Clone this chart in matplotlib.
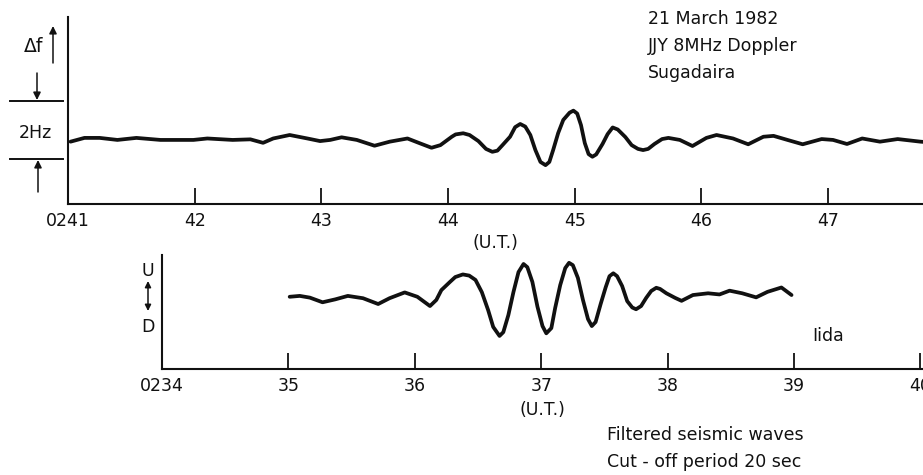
import numpy as np
import matplotlib
matplotlib.use("Agg")
import matplotlib.pyplot as plt
from matplotlib.transforms import blended_transform_factory

# HF Doppler shift, JJY 8 MHz received at Sugadaira (minutes past 02 UT, Hz)
doppler_t = [41.02, 41.13, 41.25, 41.39, 41.54, 41.73, 41.99, 42.10, 42.30, 42.44,
             42.54, 42.62, 42.75, 42.89, 42.99, 43.07, 43.16, 43.28, 43.42, 43.54,
             43.68, 43.78, 43.87, 43.94, 44.03, 44.06, 44.12, 44.17, 44.24, 44.30,
             44.35, 44.39, 44.43, 44.49, 44.53, 44.57, 44.61, 44.65, 44.69, 44.73,
             44.77, 44.80, 44.83, 44.87, 44.91, 44.96, 44.99, 45.02, 45.05, 45.08,
             45.11, 45.14, 45.17, 45.22, 45.26, 45.30, 45.34, 45.40, 45.45, 45.50,
             45.54, 45.58, 45.63, 45.69, 45.74, 45.83, 45.93, 46.04, 46.12, 46.25,
             46.37, 46.49, 46.57, 46.68, 46.80, 46.95, 47.04, 47.15, 47.27, 47.41,
             47.55, 47.73, 47.76]
doppler_df = [-0.09, 0.04, 0.04, -0.03, 0.04, -0.03, -0.03, 0.02, -0.03, -0.01,
              -0.13, 0.02, 0.14, 0.02, -0.07, -0.03, 0.06, -0.03, -0.23, -0.09,
              0.02, -0.15, -0.30, -0.21, 0.08, 0.16, 0.20, 0.14, -0.07, -0.34,
              -0.44, -0.40, -0.21, 0.08, 0.41, 0.52, 0.43, 0.14, -0.38, -0.79,
              -0.90, -0.79, -0.38, 0.21, 0.66, 0.91, 0.98, 0.88, 0.48, -0.14,
              -0.52, -0.61, -0.53, -0.17, 0.17, 0.40, 0.33, 0.07, -0.21, -0.34,
              -0.38, -0.34, -0.17, 0.00, 0.04, -0.03, -0.24, 0.04, 0.14, 0.02,
              -0.18, 0.08, 0.11, -0.03, -0.18, 0.00, -0.03, -0.17, 0.02, -0.09,
              0.00, -0.09, -0.10]

# Filtered vertical seismogram at Iida (minutes past 02 UT, arbitrary units)
seis_t = [35.01, 35.09, 35.17, 35.27, 35.37, 35.47, 35.59, 35.71, 35.80, 35.92,
          36.02, 36.12, 36.17, 36.21, 36.28, 36.32, 36.38, 36.43, 36.48, 36.53,
          36.58, 36.62, 36.67, 36.70, 36.74, 36.78, 36.82, 36.86, 36.89, 36.93,
          36.97, 37.01, 37.04, 37.08, 37.11, 37.15, 37.19, 37.22, 37.25, 37.29,
          37.33, 37.37, 37.40, 37.43, 37.47, 37.51, 37.54, 37.57, 37.60, 37.64,
          37.68, 37.72, 37.75, 37.79, 37.83, 37.87, 37.91, 37.94, 37.99, 38.06,
          38.11, 38.20, 38.32, 38.41, 38.49, 38.59, 38.70, 38.79, 38.90, 38.98]
seis_amp = [0.01, 0.04, -0.02, -0.18, -0.08, 0.04, -0.04, -0.24, -0.04, 0.16,
            0.01, -0.31, -0.10, 0.24, 0.53, 0.69, 0.78, 0.74, 0.59, 0.17,
            -0.45, -1.03, -1.34, -1.21, -0.62, 0.17, 0.86, 1.14, 1.03, 0.52,
            -0.33, -1.00, -1.25, -1.07, -0.38, 0.41, 1.00, 1.18, 1.10, 0.66,
            -0.10, -0.76, -1.00, -0.86, -0.24, 0.34, 0.72, 0.82, 0.72, 0.38,
            -0.14, -0.36, -0.42, -0.31, -0.03, 0.21, 0.32, 0.28, 0.13, -0.03,
            -0.13, 0.07, 0.13, 0.09, 0.22, 0.13, -0.01, 0.18, 0.33, 0.07]

doppler_ticks = [41, 42, 43, 44, 45, 46, 47]
doppler_ticklabels = ["0241", "42", "43", "44", "45", "46", "47"]
seis_ticks = [34, 35, 36, 37, 38, 39, 40]
seis_ticklabels = ["0234", "35", "36", "37", "38", "39", "40"]

W, H = 923, 475
FS = 12.5
INK = "#111111"

plt.rcParams["font.family"] = ["DejaVu Sans"]

fig = plt.figure(figsize=(W / 100, H / 100), dpi=100)
fig.patch.set_facecolor("white")


def px_axes(left, top, right, bottom):
    return fig.add_axes([left / W, 1 - bottom / H, (right - left) / W, (bottom - top) / H])


def style(ax, ticks, labels):
    for side in ("top", "right"):
        ax.spines[side].set_visible(False)
    for side in ("left", "bottom"):
        ax.spines[side].set_linewidth(1.5)
        ax.spines[side].set_color(INK)
    ax.set_xticks(ticks)
    ax.set_xticklabels(labels)
    ax.set_yticks([])
    ax.tick_params(axis="x", direction="in", length=11.5, width=1.3,
                   color=INK, labelsize=FS, pad=6, labelcolor=INK)
    ax.patch.set_alpha(0)


# ── Upper panel: Doppler record ─────────────────────────────────────────────
ax1 = px_axes(68, 17, W, 204)
ax1.plot(doppler_t, doppler_df, color=INK, lw=2.7, solid_joinstyle="round",
         solid_capstyle="round")
ax1.set_xlim(41, 47.75)
ax1.set_ylim(-2.24, 4.21)
style(ax1, doppler_ticks, doppler_ticklabels)
ax1.set_xlabel("(U.T.)", fontsize=FS, labelpad=3, color=INK)

# ── Lower panel: seismogram ─────────────────────────────────────────────────
ax2 = px_axes(162, 255, W, 369)
ax2.plot(seis_t, seis_amp, color=INK, lw=2.7, solid_joinstyle="round",
         solid_capstyle="round")
ax2.set_xlim(34, 40.02)
ax2.set_ylim(-2.48, 1.45)
style(ax2, seis_ticks, seis_ticklabels)
ax2.set_xlabel("(U.T.)", fontsize=FS, labelpad=4, color=INK)

# ── Annotation layer in pixel coordinates ───────────────────────────────────
ov = fig.add_axes([0, 0, 1, 1])
ov.set_xlim(0, W)
ov.set_ylim(H, 0)
ov.axis("off")
ov.patch.set_alpha(0)

# 2 Hz scale bar, drawn in Doppler units
bar_top = 1.31
bar = blended_transform_factory(ov.transData, ax1.transData)
for yv in (bar_top, bar_top - 2.0):
    ov.plot([10, 63], [yv, yv], color=INK, lw=1.4, transform=bar, clip_on=False)

arrow = dict(arrowstyle="-|>", color=INK, lw=1.1, mutation_scale=11,
             shrinkA=0, shrinkB=0)
ov.annotate("", xy=(37, 100), xytext=(37, 73), arrowprops=arrow)
ov.annotate("", xy=(38, 160), xytext=(38, 192), arrowprops=arrow)
ov.annotate("", xy=(53, 26), xytext=(53, 63), arrowprops=arrow)
ov.text(34, 47, "Δf", fontsize=FS + 1, ha="center", va="center", color=INK)
ov.text(35, 133, "2Hz", fontsize=FS, ha="center", va="center", color=INK)

# Up / down polarity marker
ov.annotate("", xy=(148, 281), xytext=(148, 311),
            arrowprops=dict(arrowstyle="<|-|>", color=INK, lw=1.1,
                            mutation_scale=9, shrinkA=0, shrinkB=0))
ov.text(148, 271, "U", fontsize=FS, ha="center", va="center", color=INK)
ov.text(148, 327, "D", fontsize=FS, ha="center", va="center", color=INK)

# Captions
for i, line in enumerate(["21 March 1982", "JJY 8MHz Doppler", "Sugadaira"]):
    ov.text(648, 19 + i * 27, line, fontsize=FS, ha="left", va="center", color=INK)
ov.text(812, 336, "Iida", fontsize=FS, ha="left", va="center", color=INK)
ov.text(607, 435, "Filtered seismic waves", fontsize=FS, ha="left", va="center", color=INK)
ov.text(607, 462, "Cut - off period 20 sec", fontsize=FS, ha="left", va="center", color=INK)

fig.savefig("out.png", dpi=100, facecolor="white")
